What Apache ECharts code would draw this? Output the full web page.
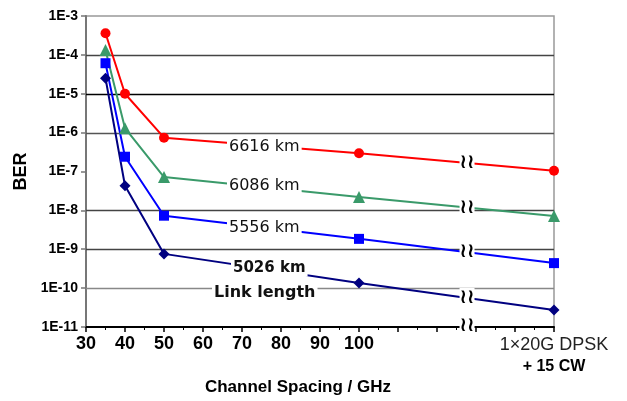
<!DOCTYPE html>
<html>
<head>
<meta charset="utf-8">
<script src="https://cdn.jsdelivr.net/npm/echarts@6/dist/echarts.min.js"></script>
<style>
html,body{margin:0;padding:0;background:#fff;}
#main{width:627px;height:401px;}
</style>
</head>
<body>
<div id="main"></div>
<script>
// Channel spacing (GHz); 150 stands for the "1×20G DPSK + 15 CW" reference point
const xValues = [35, 40, 50, 100, 150];
const ber6616 = [3.6e-4, 1.0e-5, 7.4e-7, 2.95e-7, 1.05e-7];
const ber6086 = [1.34e-4, 1.3e-6, 7.2e-8, 2.2e-8, 7.2e-9];
const ber5556 = [6.1e-5, 2.4e-7, 7.3e-9, 1.85e-9, 4.4e-10];
const ber5026 = [2.5e-5, 4.3e-8, 7.6e-10, 1.35e-10, 2.75e-11];
const seriesNames = ['6616 km', '6086 km', '5556 km', '5026 km'];
const xTickLabels = [30, 40, 50, 60, 70, 80, 90, 100];
const refLabelLines = ['1×20G DPSK', '+ 15 CW'];
// horizontal grid lines drawn in the original (1E-7 has none)
const gridDecades = [1e-10, 1e-9, 1e-8, 1e-6, 1e-5, 1e-4];
const gridColors = ['#888', '#444', '#444', '#555', '#000', '#444'];
const breakAt = 127.7;

const FONT = '"Liberation Sans", Arial, sans-serif';
const chart = echarts.init(document.getElementById('main'));

function mk(name, data, color, symbol, size) {
  return {
    name: name, type: 'line', symbol: symbol, symbolSize: size,
    data: xValues.map((x, i) => [x, data[i]]),
    lineStyle: {color: color, width: 2},
    itemStyle: {color: color},
    z: 3
  };
}

const option = {
  animation: false,
  grid: {left: 86, right: 73, top: 16, bottom: 74, show: true, borderColor: '#999', borderWidth: 1.5},
  xAxis: {
    type: 'value', min: 30, max: 150, interval: 10,
    axisLine: {lineStyle: {color: '#000', width: 2}},
    axisTick: {length: 5, lineStyle: {color: '#000', width: 1.5}},
    minorTick: {show: true, splitNumber: 2, length: 3, lineStyle: {color: '#000', width: 1}},
    splitLine: {show: false},
    axisLabel: {
      margin: 8, color: '#000', fontFamily: FONT, fontWeight: 'bold', fontSize: 18,
      formatter: function (v) {
        if (xTickLabels.indexOf(v) >= 0) return String(v);
        if (v === xValues[xValues.length - 1]) return '{a|' + refLabelLines[0] + '}\n{b|' + refLabelLines[1] + '}';
        return '';
      },
      rich: {
        a: {fontFamily: FONT, fontSize: 18, fontWeight: 'normal', color: '#222', lineHeight: 21},
        b: {fontFamily: FONT, fontSize: 16, fontWeight: 'bold', color: '#000', lineHeight: 21}
      }
    }
  },
  yAxis: {
    type: 'log', logBase: 10, min: 1e-11, max: 1e-3, splitNumber: 8,
    axisLine: {show: true, lineStyle: {color: '#777', width: 2}},
    axisTick: {show: true, length: 5, lineStyle: {color: '#777', width: 1.5}},
    axisLabel: {
      margin: 8, color: '#000', fontFamily: FONT, fontWeight: 'bold', fontSize: 14,
      formatter: function (v) { return '1E' + Math.round(Math.log10(v)); }
    },
    splitLine: {show: false},
    name: 'BER', nameLocation: 'middle', nameGap: 48, nameRotate: 90,
    nameTextStyle: {fontFamily: FONT, fontWeight: 'bold', fontSize: 18, color: '#000'}
  },
  series: [
    mk(seriesNames[0], ber6616, '#ff0000', 'circle', 10),
    mk(seriesNames[1], ber6086, '#3a9a6a', 'triangle', 12),
    mk(seriesNames[2], ber5556, '#0000ff', 'rect', 10),
    mk(seriesNames[3], ber5026, '#000080', 'diamond', 11)
  ]
};
chart.setOption(option);

const graphics = [];
// horizontal grid lines placed through the y scale
gridDecades.forEach(function (v, i) {
  const a = chart.convertToPixel({gridIndex: 0}, [30, v]);
  const b = chart.convertToPixel({gridIndex: 0}, [150, v]);
  graphics.push({type: 'line', z: 1, silent: true,
    shape: {x1: a[0], y1: Math.round(a[1]) + 0.5, x2: b[0], y2: Math.round(b[1]) + 0.5},
    style: {stroke: gridColors[i], lineWidth: 1.5}});
});

// break marks on each line (on the segment between the last two points)
const allSeries = [ber6616, ber6086, ber5556, ber5026];
const breakStyle = {text: '≀≀', fontFamily: 'DejaVu Sans', fontSize: 20, fontWeight: 'bold', fill: '#000',
  align: 'center', verticalAlign: 'middle', backgroundColor: '#fff'};
allSeries.forEach(function (arr) {
  const n = arr.length;
  const x0 = xValues[n - 2], x1 = xValues[n - 1];
  const f = (breakAt - x0) / (x1 - x0);
  const ly = Math.log10(arr[n - 2]) + f * (Math.log10(arr[n - 1]) - Math.log10(arr[n - 2]));
  const p = chart.convertToPixel({gridIndex: 0}, [breakAt, Math.pow(10, ly)]);
  graphics.push({type: 'text', x: p[0], y: p[1], z: 100, style: Object.assign({}, breakStyle)});
});
const pa = chart.convertToPixel({gridIndex: 0}, [breakAt, 1e-11]);
graphics.push({type: 'text', x: pa[0], y: pa[1] - 1, z: 100, style: Object.assign({}, breakStyle)});

// series name labels
const labelDefs = [
  {t: seriesNames[0], x: 227, y: 147, w: 'normal', s: 16},
  {t: seriesNames[1], x: 227, y: 186, w: 'normal', s: 16},
  {t: seriesNames[2], x: 227, y: 228, w: 'normal', s: 16},
  {t: seriesNames[3], x: 231, y: 268, w: 'bold', s: 15},
  {t: 'Link length', x: 212, y: 293, w: 'bold', s: 16}
];
labelDefs.forEach(function (d) {
  graphics.push({type: 'text', x: d.x, y: d.y, z: 100,
    style: {text: d.t, fontFamily: 'DejaVu Sans', fontSize: d.s, fontWeight: d.w, fill: '#111',
      align: 'left', verticalAlign: 'middle', backgroundColor: '#fff', padding: [1, 2]}});
});
// x axis title
graphics.push({type: 'text', x: 298, y: 387, z: 100,
  style: {text: 'Channel Spacing / GHz', fontFamily: FONT, fontSize: 17, fontWeight: 'bold', fill: '#000',
    align: 'center', verticalAlign: 'middle'}});

chart.setOption({graphic: {elements: graphics}});
</script>
</body>
</html>
